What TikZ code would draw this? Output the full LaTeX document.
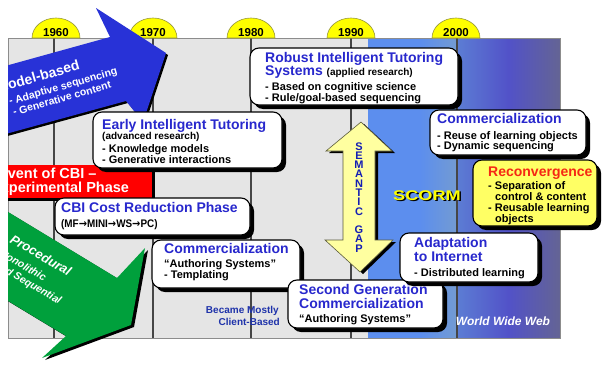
\documentclass[tikz,border=0pt]{standalone}
\usepackage{fontspec}
\setmainfont{Liberation Sans}
\newfontfamily\arrowfont{DejaVu Sans}

\definecolor{panelgray}{RGB}{229,229,229}
\definecolor{gridline}{RGB}{70,70,70}
\definecolor{panelframe}{RGB}{140,140,140}
\definecolor{skyblue}{RGB}{92,142,238}
\definecolor{steelblue}{RGB}{115,155,210}
\definecolor{webleft}{RGB}{92,125,212}
\definecolor{webmid}{RGB}{82,82,200}
\definecolor{webright}{RGB}{100,100,148}
\definecolor{yearyellow}{RGB}{255,255,0}
\definecolor{bubbleedge}{RGB}{150,150,60}
\definecolor{modelblue}{RGB}{40,50,215}
\definecolor{cbired}{RGB}{255,0,0}
\definecolor{procgreen}{RGB}{0,160,60}
\definecolor{titleblue}{RGB}{40,40,205}
\definecolor{gapyellow}{RGB}{255,255,160}
\definecolor{gapedge}{RGB}{90,90,60}
\definecolor{gapblue}{RGB}{20,30,180}
\definecolor{reconvred}{RGB}{245,40,20}
\definecolor{notecolor}{RGB}{30,50,170}
\definecolor{callyellow}{RGB}{255,255,100}

% white call-out with a black drop shadow: [fill]{top-left}{bottom-right}
\newcommand\callbox[3][white]{%
  \fill[dropshadow] (#2) rectangle (#3);
  \filldraw[callout, fill=#1] (#2) rectangle (#3);}

% yellow dome carrying a decade label: {x}{label}
\newcommand\yearmark[2]{%
  \filldraw[bubble] ({#1-24},38) arc[start angle=180, end angle=360, x radius=24, y radius=20] -- cycle;
  \node[yearlabel] (year#2) at (#1,36) {#2};}

% platform step arrow
\newcommand\nxt{{\arrowfont\bfseries →}}

\begin{document}
\begin{tikzpicture}[x=1pt,y=-1pt,
  callout/.style={draw=black, line width=1.1pt, rounded corners=9pt},
  dropshadow/.style={fill=black, rounded corners=9pt, xshift=4pt, yshift=-4pt},
  ttl/.style={anchor=base west, inner sep=0pt, text=titleblue, font=\fontsize{14}{16}\selectfont\bfseries},
  bul/.style={anchor=base west, inner sep=0pt, text=black, font=\fontsize{11}{13}\selectfont\bfseries},
  aside/.style={anchor=base west, inner sep=0pt, text=black, font=\fontsize{10}{12}\selectfont\bfseries},
  yearlabel/.style={anchor=base, inner sep=0pt, font=\fontsize{11.5}{13}\selectfont\bfseries},
  bubble/.style={fill=yearyellow, draw=bubbleedge, line width=0.6pt},
  yearline/.style={draw=gridline, line width=1.3pt},
  arrowtext/.style={anchor=base west, inner sep=0pt, text=white},
  gapletter/.style={anchor=base, inner sep=0pt, text=gapblue, font=\fontsize{11}{11}\selectfont\bfseries},
]
\useasboundingbox (0,0) rectangle (602,364);

\begin{scope}
\clip (8,0) rectangle (602,364);

% timeline panel
\fill[panelgray] (8,38) rectangle (368,338);
\fill[skyblue] (368,38) rectangle (420,338);
\shade[left color=skyblue, right color=steelblue] (420,38) rectangle (457,338);
\shade[left color=webleft, right color=webright, middle color=webmid] (457,38) rectangle (560,338);
\draw[panelframe, line width=1pt] (8,38) rectangle (560,338);
\foreach \x in {54,153,251,351,457} \draw[yearline] (\x,38) -- (\x,338);

% decades
\yearmark{56}{1960}
\yearmark{153}{1970}
\yearmark{251}{1980}
\yearmark{351}{1990}
\yearmark{456}{2000}

% model-based arrow
\fill[black, xshift=2pt, yshift=-2pt] (-20,73) -- (110,37) -- (96,8) -- (166,53) -- (143,122) -- (126,101) -- (-20,141) -- cycle;
\fill[modelblue] (-20,73) -- (110,37) -- (96,8) -- (166,53) -- (143,122) -- (126,101) -- (-20,141) -- cycle;
\node[arrowtext, rotate=16, font=\fontsize{14}{16}\selectfont\bfseries] (mb1) at (-2,93) {Model-based};
\node[arrowtext, rotate=16, font=\fontsize{10.5}{12}\selectfont\bfseries] (mb2) at (10,105) {- Adaptive sequencing};
\node[arrowtext, rotate=16, font=\fontsize{10.5}{12}\selectfont\bfseries] (mb3) at (14,116) {- Generative content};

% advent of CBI
\fill[black] (-5,168) rectangle (155,201);
\fill[cbired] (-5,165) rectangle (152,198);
\node[arrowtext, font=\fontsize{14.5}{16}\selectfont\bfseries] (cbi1) at (-2,178) {Event of CBI –};
\node[arrowtext, font=\fontsize{14.5}{16}\selectfont\bfseries] (cbi2) at (-9,192) {Experimental Phase};

% procedural arrow
\fill[black, xshift=3pt, yshift=-2pt] (-20,195) -- (117,278) -- (145,248) -- (131,325) -- (42,358) -- (66,336) -- (-20,284) -- cycle;
\fill[procgreen] (-20,195) -- (117,278) -- (145,248) -- (131,325) -- (42,358) -- (66,336) -- (-20,284) -- cycle;
\node[arrowtext, rotate=-30, font=\fontsize{13}{15}\selectfont\bfseries\itshape] (pr1) at (9,242) {Procedural};
\node[arrowtext, rotate=-30, font=\fontsize{10.5}{12}\selectfont\bfseries\itshape] (pr2) at (-2,255) {Monolithic};
\node[arrowtext, rotate=-30, font=\fontsize{10.5}{12}\selectfont\bfseries\itshape] (pr3) at (-6,267) {and Sequential};

% robust intelligent tutoring
\callbox{250,48}{458,105}
\node[ttl] (rit1) at (265,62) {Robust Intelligent Tutoring};
\node[ttl] (rit2) at (265,75) {Systems {\color{black}\fontsize{10}{12}\selectfont (applied research)}};
\node[bul] (rit3) at (265,90) {- Based on cognitive science};
\node[bul] (rit4) at (265,101) {- Rule/goal-based sequencing};

% early intelligent tutoring
\callbox{93,112}{282,168}
\node[ttl] (eit1) at (102,129) {Early Intelligent Tutoring};
\node[aside] (eit2) at (102,139) {(advanced research)};
\node[bul] (eit3) at (102,152) {- Knowledge models};
\node[bul] (eit4) at (102,163) {- Generative interactions};

% cost reduction
\callbox{55,198}{250,235}
\node[ttl] (crp1) at (61,212) {CBI Cost Reduction Phase};
\node[bul] (crp2) at (61,227) {\scalebox{0.9}[1]{(MF\nxt MINI\nxt WS\nxt PC)}};

% first commercialization
\callbox{152,240}{300,288}
\node[ttl] (com1) at (164,253) {Commercialization};
\node[bul] (com2) at (164,267) {“Authoring Systems”};
\node[bul] (com3) at (164,278) {- Templating};

% second generation
\callbox{288,280}{443,328}
\node[ttl] (sgc1) at (299,294) {Second Generation};
\node[ttl] (sgc2) at (299,308) {Commercialization};
\node[bul] (sgc3) at (299,322) {“Authoring Systems”};

% adaptation to internet
\callbox{400,233}{538,282}
\node[ttl] (ati1) at (414,247) {Adaptation};
\node[ttl] (ati2) at (414,261) {to Internet};
\node[bul] (ati3) at (414,276) {- Distributed learning};

% later commercialization
\callbox{430,110}{586,155}
\node[ttl] (lco1) at (437,123) {Commercialization};
\node[bul] (lco2) at (437,139) {- Reuse of learning objects};
\node[bul] (lco3) at (437,149) {- Dynamic sequencing};

% reconvergence
\callbox[callyellow]{473,160}{597,226}
\node[ttl, text=reconvred] (rec1) at (488,176) {Reconvergence};
\node[bul] (rec2) at (488,189.5) {- Separation of};
\node[bul] (rec3) at (495,200.5) {control \& content};
\node[bul] (rec4) at (488,211.5) {- Reusable learning};
\node[bul] (rec5) at (495,222.5) {objects};

% semantic gap
\fill[black, xshift=3pt, yshift=-2pt] (361,122) -- (392,151) -- (375,151) -- (375,240) -- (393,240) -- (360,272) -- (325,240) -- (343,240) -- (343,151) -- (326,151) -- cycle;
\filldraw[fill=gapyellow, draw=gapedge, line width=0.6pt] (361,122) -- (392,151) -- (375,151) -- (375,240) -- (393,240) -- (360,272) -- (325,240) -- (343,240) -- (343,151) -- (326,151) -- cycle;
\foreach \ch [count=\i from 0] in {S,E,M,A,N,T,I,C}
  \node[gapletter] (sem\i) at (359,{150+9.3*\i}) {\ch};
\foreach \ch [count=\i from 0] in {G,A,P}
  \node[gapletter] (gap\i) at (359,{233+9.5*\i}) {\ch};

% SCORM
\node[anchor=base, inner sep=0pt, text=black, font=\fontsize{14}{16}\selectfont\bfseries] (scormshade) at (428.5,201.5) {\scalebox{1.3}[1]{SCORM}};
\node[anchor=base, inner sep=0pt, text=yearyellow, font=\fontsize{14}{16}\selectfont\bfseries] (scorm) at (427,200) {\scalebox{1.3}[1]{SCORM}};

% notes
\node[anchor=base east, inner sep=0pt, text=notecolor, font=\fontsize{10}{12}\selectfont\bfseries] (cb1) at (279,313) {Became Mostly};
\node[anchor=base east, inner sep=0pt, text=notecolor, font=\fontsize{10}{12}\selectfont\bfseries] (cb2) at (280,325) {Client-Based};
\node[anchor=base, inner sep=0pt, text=white, font=\fontsize{12}{14}\selectfont\bfseries\itshape] (www) at (503,325) {World Wide Web};
\end{scope}
\end{tikzpicture}
\end{document}
